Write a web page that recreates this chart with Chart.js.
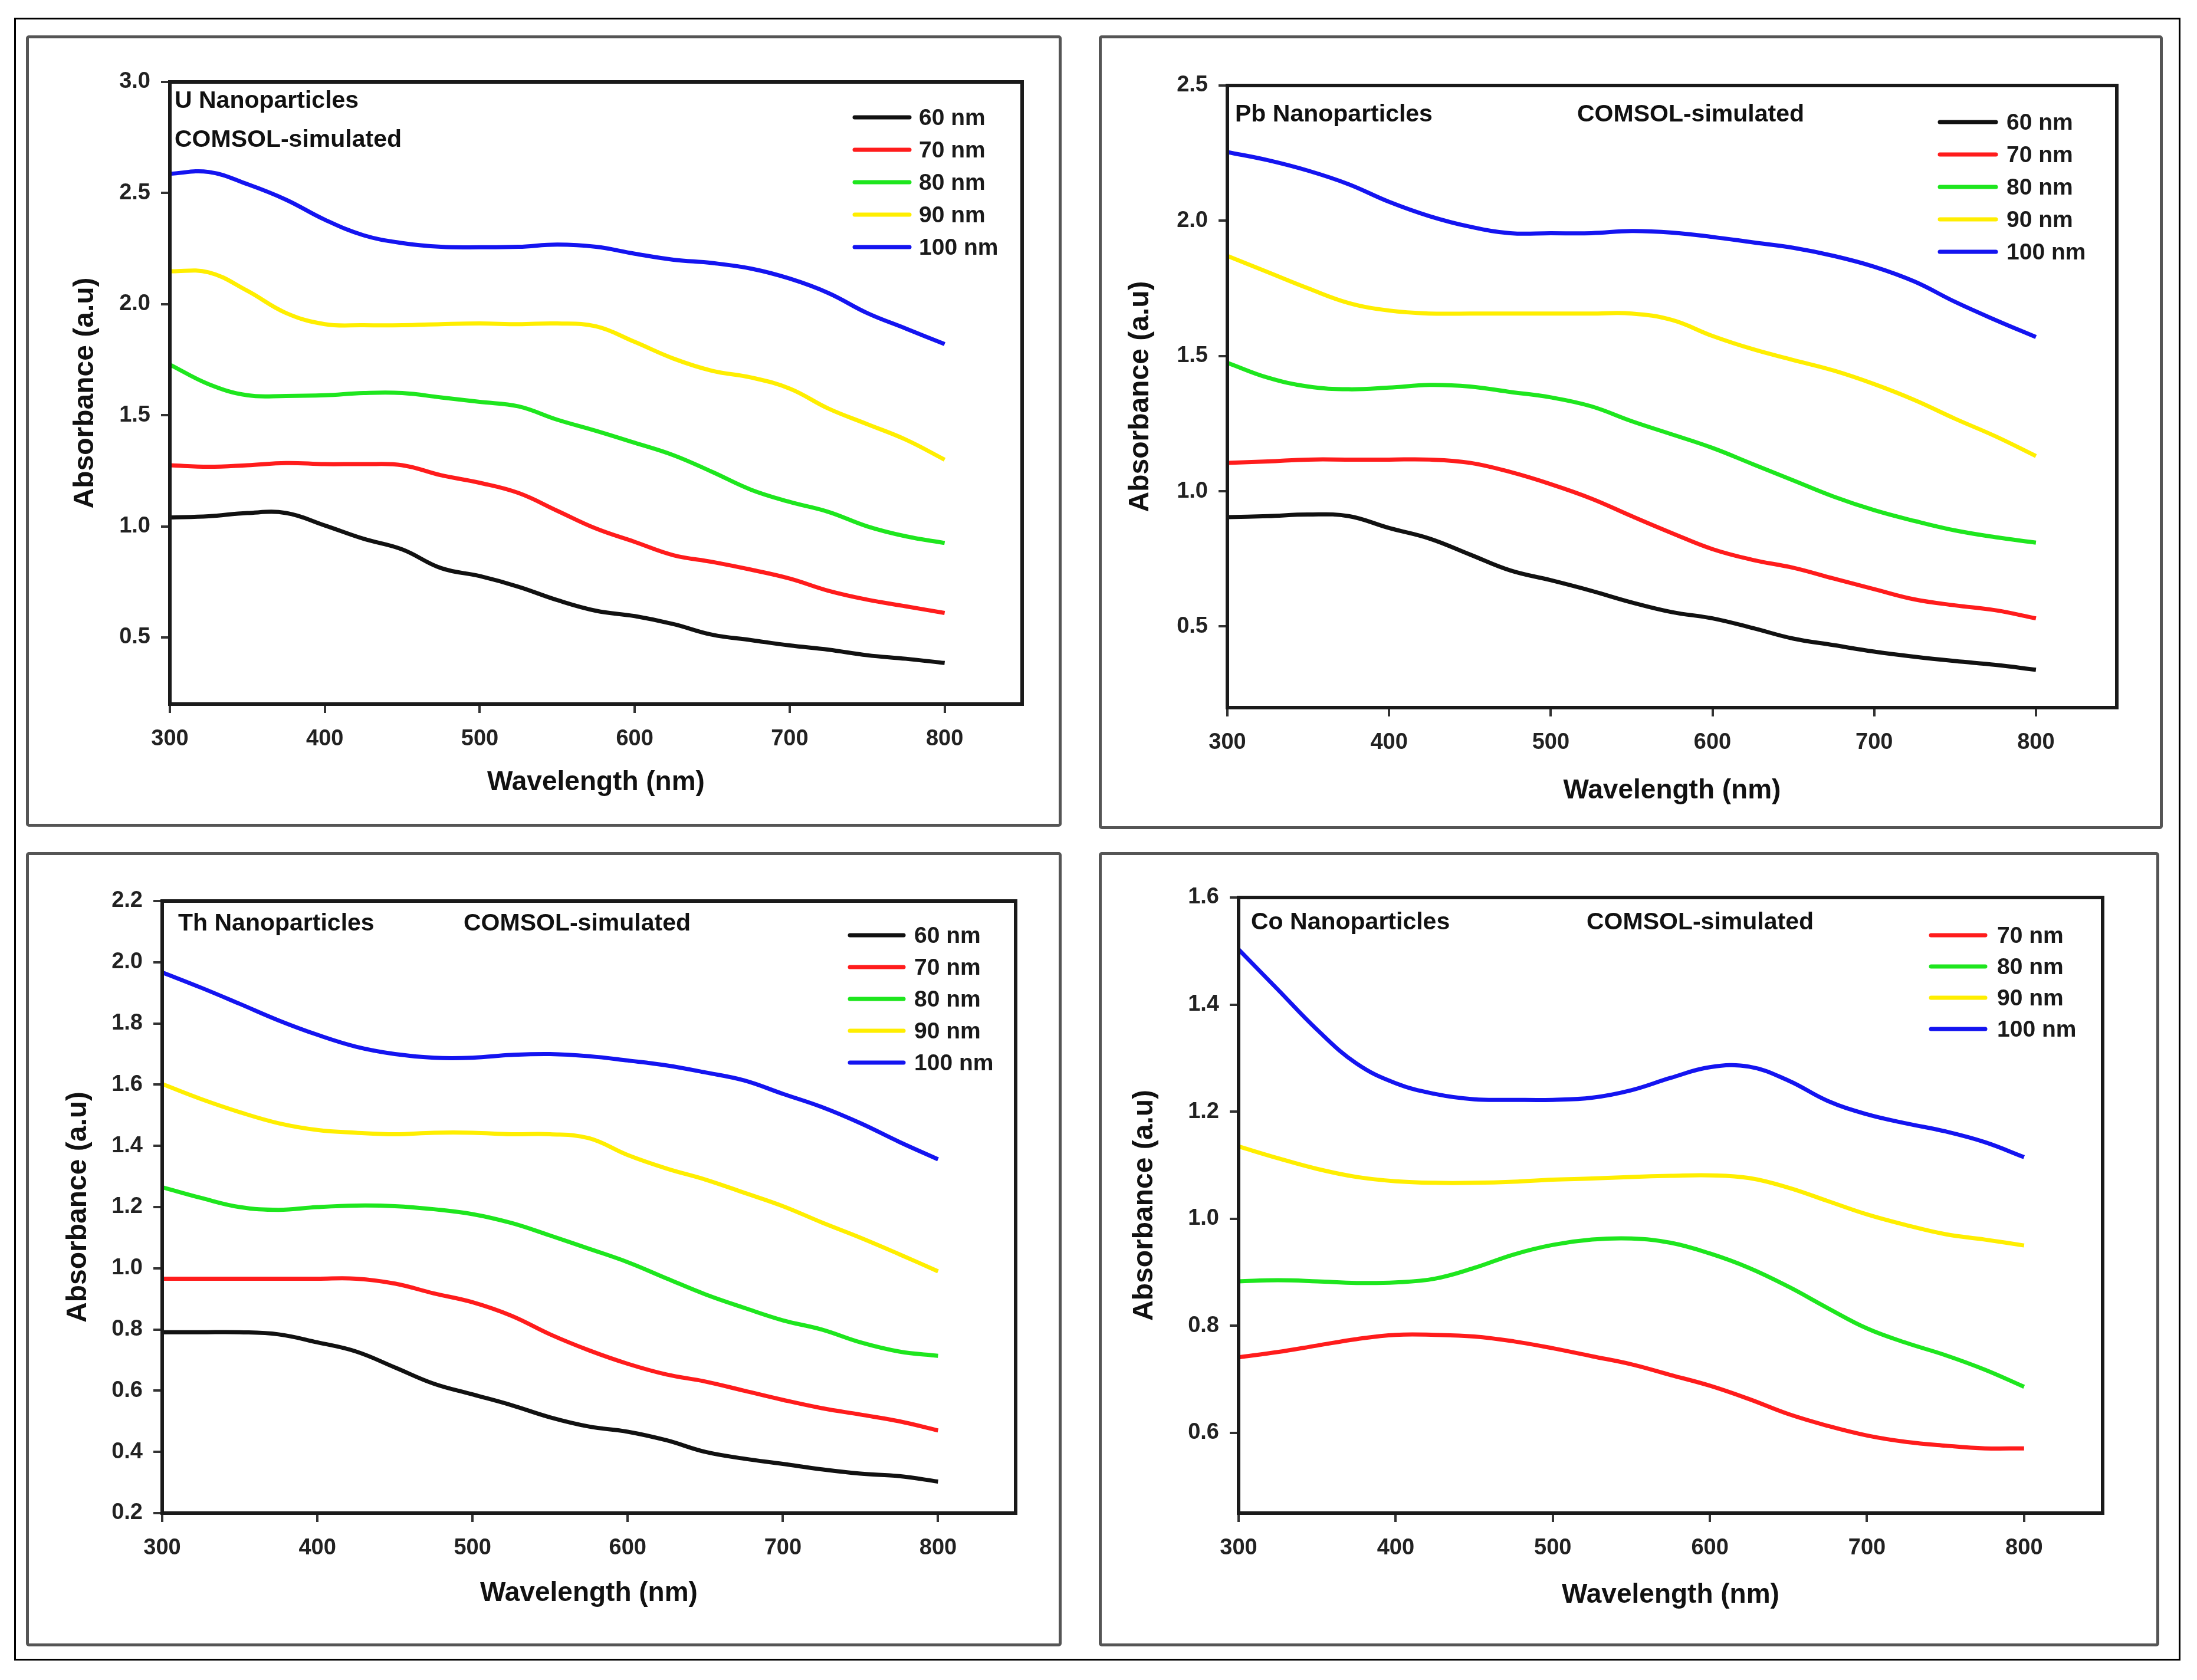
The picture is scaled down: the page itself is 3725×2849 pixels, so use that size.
<!DOCTYPE html>
<html>
<head>
<meta charset="utf-8">
<script src="https://cdn.jsdelivr.net/npm/chart.js@4.4.1/dist/chart.umd.min.js"></script>
<style>
  html, body { margin: 0; padding: 0; background: #fff; overflow: hidden; }
  body { width: 3725px; height: 2849px; position: relative; }
  .frame { position: absolute; box-sizing: border-box; }
  canvas { position: absolute; }
</style>
</head>
<body>
<div class="frame" style="left:24px;top:30px;width:3673px;height:2786px;border:3px solid #000;"></div>
<script>
// wavelength grid shared by every series (nm)
const wavelengths = [300, 325, 350, 375, 400, 425, 450, 475, 500, 525, 550, 575, 600, 625, 650, 675, 700, 725, 750, 775, 800];
const xTicks = [300, 400, 500, 600, 700, 800];

// U nanoparticles
const u60  = [1.04, 1.045, 1.06, 1.06, 1.004, 0.944, 0.896, 0.812, 0.776, 0.728, 0.668, 0.62, 0.596, 0.56, 0.512, 0.488, 0.464, 0.445, 0.42, 0.404, 0.385];
const u70  = [1.275, 1.268, 1.275, 1.285, 1.28, 1.28, 1.275, 1.23, 1.196, 1.15, 1.07, 0.99, 0.93, 0.87, 0.84, 0.805, 0.765, 0.71, 0.67, 0.64, 0.61];
const u80  = [1.728, 1.64, 1.59, 1.587, 1.59, 1.60, 1.60, 1.58, 1.56, 1.54, 1.48, 1.43, 1.376, 1.32, 1.245, 1.165, 1.11, 1.065, 1.00, 0.955, 0.925];
const u90  = [2.148, 2.143, 2.06, 1.96, 1.91, 1.905, 1.905, 1.91, 1.913, 1.91, 1.913, 1.90, 1.83, 1.755, 1.70, 1.67, 1.62, 1.53, 1.46, 1.39, 1.30];
const u100 = [2.587, 2.595, 2.54, 2.47, 2.38, 2.31, 2.275, 2.258, 2.256, 2.258, 2.268, 2.258, 2.227, 2.20, 2.185, 2.16, 2.115, 2.05, 1.96, 1.89, 1.82];
const uTicks = [0.5, 1.0, 1.5, 2.0, 2.5, 3.0];

// Pb nanoparticles
const pb60  = [0.904, 0.908, 0.914, 0.908, 0.864, 0.825, 0.766, 0.707, 0.671, 0.632, 0.589, 0.553, 0.53, 0.494, 0.455, 0.431, 0.407, 0.388, 0.372, 0.358, 0.34];
const pb70  = [1.105, 1.11, 1.117, 1.117, 1.117, 1.117, 1.105, 1.071, 1.026, 0.973, 0.908, 0.845, 0.786, 0.746, 0.717, 0.677, 0.638, 0.60, 0.578, 0.56, 0.53];
const pb80  = [1.475, 1.42, 1.387, 1.377, 1.383, 1.393, 1.387, 1.367, 1.347, 1.314, 1.259, 1.21, 1.16, 1.10, 1.04, 0.98, 0.93, 0.89, 0.855, 0.83, 0.81];
const pb90  = [1.87, 1.81, 1.75, 1.696, 1.668, 1.657, 1.657, 1.657, 1.657, 1.657, 1.657, 1.633, 1.574, 1.525, 1.485, 1.446, 1.396, 1.337, 1.268, 1.203, 1.13];
const pb100 = [2.254, 2.224, 2.185, 2.135, 2.07, 2.017, 1.978, 1.954, 1.954, 1.954, 1.962, 1.956, 1.94, 1.92, 1.90, 1.87, 1.83, 1.775, 1.70, 1.633, 1.57];
const pbTicks = [0.5, 1.0, 1.5, 2.0, 2.5];

// Th nanoparticles
const th60  = [0.791, 0.791, 0.791, 0.784, 0.758, 0.728, 0.676, 0.623, 0.588, 0.553, 0.513, 0.483, 0.466, 0.438, 0.40, 0.378, 0.361, 0.343, 0.329, 0.321, 0.303];
const th70  = [0.966, 0.966, 0.966, 0.966, 0.966, 0.966, 0.95, 0.918, 0.889, 0.845, 0.784, 0.732, 0.688, 0.653, 0.63, 0.60, 0.57, 0.543, 0.522, 0.50, 0.47];
const th80  = [1.265, 1.23, 1.20, 1.191, 1.20, 1.205, 1.203, 1.193, 1.177, 1.148, 1.107, 1.064, 1.02, 0.967, 0.915, 0.871, 0.83, 0.80, 0.758, 0.728, 0.714];
const th90  = [1.602, 1.553, 1.51, 1.474, 1.452, 1.443, 1.438, 1.443, 1.443, 1.438, 1.438, 1.425, 1.37, 1.326, 1.29, 1.247, 1.203, 1.15, 1.10, 1.046, 0.99];
const th100 = [1.967, 1.917, 1.864, 1.81, 1.763, 1.724, 1.70, 1.688, 1.688, 1.697, 1.70, 1.693, 1.679, 1.663, 1.64, 1.614, 1.57, 1.527, 1.474, 1.413, 1.356];
const thTicks = [0.2, 0.4, 0.6, 0.8, 1.0, 1.2, 1.4, 1.6, 1.8, 2.0, 2.2];

// Co nanoparticles (no 60 nm curve)
const co70  = [0.741, 0.751, 0.763, 0.775, 0.783, 0.783, 0.78, 0.771, 0.758, 0.743, 0.728, 0.708, 0.688, 0.663, 0.635, 0.613, 0.595, 0.583, 0.576, 0.571, 0.571];
const co80  = [0.883, 0.885, 0.883, 0.88, 0.881, 0.888, 0.908, 0.933, 0.951, 0.961, 0.963, 0.955, 0.935, 0.908, 0.873, 0.833, 0.795, 0.768, 0.745, 0.718, 0.686];
const co90  = [1.135, 1.113, 1.093, 1.078, 1.07, 1.067, 1.067, 1.069, 1.073, 1.075, 1.078, 1.08, 1.081, 1.076, 1.058, 1.033, 1.008, 0.988, 0.971, 0.961, 0.95];
const co100 = [1.503, 1.428, 1.353, 1.29, 1.253, 1.233, 1.223, 1.222, 1.222, 1.226, 1.24, 1.263, 1.283, 1.284, 1.258, 1.22, 1.195, 1.178, 1.163, 1.143, 1.115];
const coTicks = [0.6, 0.8, 1.0, 1.2, 1.4, 1.6];

const sizeLabels = ['60 nm', '70 nm', '80 nm', '90 nm', '100 nm'];
const sizeColors = ['#111111', '#ff1c1c', '#1ee61e', '#ffee00', '#1414f0'];

const FONT = "'Liberation Sans', Arial, sans-serif";
Chart.defaults.font.family = FONT;

const panels = [
  { box: [44, 60, 1800, 1402], plot: [288, 139, 1733, 1194], yMin: 0.2, yMax: 3.0, yTicks: uTicks,
    series: [u60, u70, u80, u90, u100], first: 0, name: 'U Nanoparticles',
    nameAt: [8, 33], simAt: [8, 99], legAt: [1161, 1254, 1270, 60, 55], yPad: 72, xPad: 47 },
  { box: [1863, 60, 3667, 1406], plot: [2081, 145, 3589, 1200], yMin: 0.2, yMax: 2.5, yTicks: pbTicks,
    series: [pb60, pb70, pb80, pb90, pb100], first: 0, name: 'Pb Nanoparticles',
    nameAt: [13, 50], simAt: [593, 50], legAt: [1208, 1303, 1321, 62, 55], yPad: 42, xPad: 37 },
  { box: [44, 1445, 1800, 2792], plot: [275, 1528, 1722, 2566], yMin: 0.2, yMax: 2.2, yTicks: thTicks,
    series: [th60, th70, th80, th90, th100], first: 0, name: 'Th Nanoparticles',
    nameAt: [27, 39], simAt: [511, 39], legAt: [1166, 1257, 1275, 58, 54], yPad: 60, xPad: 62 },
  { box: [1863, 1445, 3661, 2792], plot: [2100, 1522, 3565, 2566], yMin: 0.45, yMax: 1.6, yTicks: coTicks,
    series: [co70, co80, co90, co100], first: 1, name: 'Co Nanoparticles',
    nameAt: [21, 43], simAt: [590, 43], legAt: [1174, 1266, 1286, 64, 53], yPad: 49, xPad: 59 }
];

// frame box, panel texts and legend drawn inside the plot area
const decor = {
  id: 'decor',
  afterDraw(chart) {
    const p = chart.options.plugins.decor;
    const ca = chart.chartArea;
    const ctx = chart.ctx;
    ctx.save();
    ctx.strokeStyle = '#1a1a1a';
    ctx.lineWidth = 6;
    ctx.strokeRect(ca.left, ca.top, ca.right - ca.left, ca.bottom - ca.top);
    ctx.fillStyle = '#111';
    ctx.textBaseline = 'middle';
    ctx.textAlign = 'left';
    ctx.font = 'bold 41px ' + FONT;
    ctx.fillText(p.name, ca.left + p.nameAt[0], ca.top + p.nameAt[1]);
    ctx.fillText('COMSOL-simulated', ca.left + p.simAt[0], ca.top + p.simAt[1]);
    const [x0, x1, xt, y0, dy] = p.legAt;
    ctx.font = 'bold 39px ' + FONT;
    chart.data.datasets.forEach((ds, i) => {
      const y = ca.top + y0 + i * dy;
      ctx.strokeStyle = ds.borderColor;
      ctx.lineWidth = 7;
      ctx.lineCap = 'round';
      ctx.beginPath();
      ctx.moveTo(ca.left + x0, y);
      ctx.lineTo(ca.left + x1, y);
      ctx.stroke();
      ctx.fillStyle = '#1a1a1a';
      ctx.fillText(ds.label, ca.left + xt, y + 2);
    });
    ctx.restore();
  }
};

panels.forEach(p => {
  const [bl, bt, br, bb] = p.box;
  const [pl, pt, pr, pb] = p.plot;
  const frame = document.createElement('div');
  frame.className = 'frame';
  frame.style.cssText = `left:${bl}px;top:${bt}px;width:${br - bl}px;height:${bb - bt}px;border:5px solid #555;border-radius:5px;`;
  document.body.appendChild(frame);

  const cv = document.createElement('canvas');
  cv.width = br - bl;
  cv.height = bb - bt;
  cv.style.left = bl + 'px';
  cv.style.top = bt + 'px';
  cv.style.width = (br - bl) + 'px';
  cv.style.height = (bb - bt) + 'px';
  document.body.appendChild(cv);

  const datasets = p.series.map((vals, i) => ({
    label: sizeLabels[i + p.first],
    data: wavelengths.map((w, j) => ({ x: w, y: vals[j] })),
    borderColor: sizeColors[i + p.first],
    borderWidth: 7,
    pointRadius: 0,
    fill: false,
    tension: 0.4
  }));

  new Chart(cv.getContext('2d'), {
    type: 'line',
    data: { datasets },
    options: {
      responsive: false,
      animation: false,
      devicePixelRatio: 1,
      layout: { padding: { left: 0, top: pt - bt, right: br - pr, bottom: 0 } },
      plugins: {
        legend: { display: false },
        tooltip: { enabled: false },
        decor: { name: p.name, nameAt: p.nameAt, simAt: p.simAt, legAt: p.legAt }
      },
      scales: {
        x: {
          type: 'linear',
          min: 300,
          max: 850,
          afterBuildTicks: s => { s.ticks = xTicks.map(v => ({ value: v })); },
          afterFit: s => { s.height = bb - pb; },
          border: { display: false },
          grid: { drawOnChartArea: false, drawTicks: true, tickLength: 15, color: '#333', lineWidth: 4 },
          ticks: { color: '#222', font: { size: 38, weight: 'bold' }, padding: 22, maxRotation: 0, autoSkip: false,
                   callback: v => String(v) },
          title: { display: true, text: 'Wavelength (nm)', color: '#111',
                   font: { size: 46, weight: 'bold' }, padding: { top: 0, bottom: p.xPad } }
        },
        y: {
          type: 'linear',
          min: p.yMin,
          max: p.yMax,
          afterBuildTicks: s => { s.ticks = p.yTicks.map(v => ({ value: v })); },
          afterFit: s => { s.width = pl - bl; },
          border: { display: false },
          grid: { drawOnChartArea: false, drawTicks: true, tickLength: 15, color: '#333', lineWidth: 4 },
          ticks: { color: '#222', font: { size: 38, weight: 'bold' }, padding: 18, autoSkip: false,
                   callback: v => Number(v).toFixed(1) },
          title: { display: true, text: 'Absorbance (a.u)', color: '#111',
                   font: { size: 48, weight: 'bold' }, padding: { top: p.yPad, bottom: 0 } }
        }
      }
    },
    plugins: [decor]
  });
});
</script>
</body>
</html>
